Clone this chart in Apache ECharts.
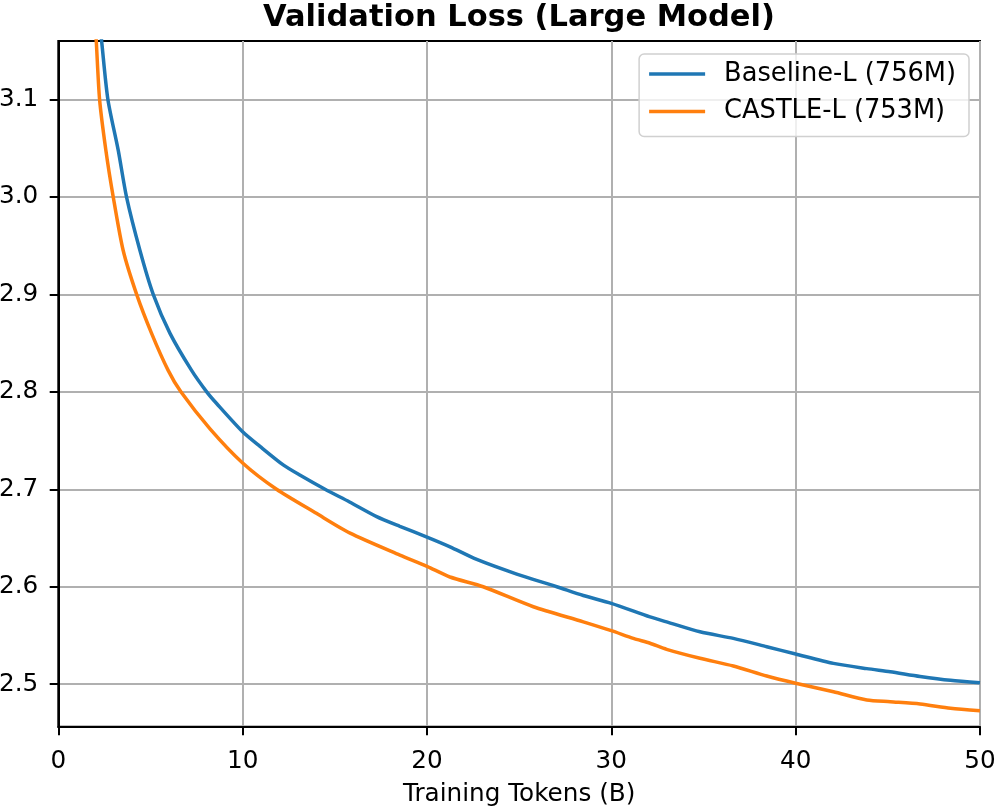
<!DOCTYPE html>
<html>
<head>
<meta charset="utf-8">
<script src="https://cdn.jsdelivr.net/npm/echarts@6/dist/echarts.min.js"></script>
<style>
html,body{margin:0;padding:0;background:#fff;}
#chart{width:997px;height:808px;}
</style>
</head>
<body>
<div id="chart"></div>
<script>
const titleText = 'Validation Loss (Large Model)';
const xAxisName = 'Training Tokens (B)';
const seriesNames = ['Baseline-L (756M)', 'CASTLE-L (753M)'];
const seriesColors = ['#1f77b4', '#ff7f0e'];

const baselineTokens = [2.18, 2.35, 2.69, 3.25, 3.70, 4.43, 5.15, 6.06, 7.23, 8.05, 8.59, 10, 10.94, 12.2, 13.1, 14.47, 15.8, 17.27, 18.53, 20, 21.25, 22.7, 24.87, 27.04, 28.48, 30, 32.1, 33, 34.81, 36.62, 38.43, 40, 42.05, 43.86, 45.13, 46.75, 48.4, 50];
const baselineLoss   = [3.19, 3.16, 3.10, 3.048, 3.00, 2.945, 2.90, 2.860, 2.822, 2.80, 2.788, 2.759, 2.744, 2.725, 2.7146, 2.70, 2.687, 2.672, 2.662, 2.651, 2.641, 2.628, 2.613, 2.60, 2.591, 2.583, 2.569, 2.564, 2.5538, 2.547, 2.5385, 2.531, 2.5214, 2.516, 2.5128, 2.508, 2.504, 2.5015];

const castleTokens = [1.97, 2.06, 2.24, 2.58, 2.98, 3.52, 4.25, 5.06, 5.96, 6.65, 8.23, 10, 11.84, 14.0, 15.83, 18.53, 20, 21.25, 23.05, 25.77, 28.48, 30, 31.2, 32.1, 33, 34.81, 36.62, 38.43, 40, 42.05, 43.86, 45.13, 46.75, 48.4, 50];
const castleLoss   = [3.19, 3.16, 3.10, 3.048, 3.00, 2.945, 2.90, 2.860, 2.822, 2.80, 2.762, 2.727, 2.70, 2.6753, 2.655, 2.6325, 2.621, 2.61, 2.60, 2.5795, 2.564, 2.5549, 2.547, 2.542, 2.5358, 2.5266, 2.5187, 2.5084, 2.501, 2.4923, 2.4838, 2.482, 2.4797, 2.4753, 2.4728];

const xTicks = [0, 10, 20, 30, 40, 50];
const yTicks = [2.5, 2.6, 2.7, 2.8, 2.9, 3.0, 3.1];

const FONT = 'DejaVu Sans';
const pairs = (xs, ys) => xs.map((x, i) => [x, ys[i]]);

const chart = echarts.init(document.getElementById('chart'), null, {renderer: 'canvas'});
chart.setOption({
  animation: false,
  backgroundColor: '#fff',
  title: {
    text: titleText,
    left: 519,
    top: 3,
    textAlign: 'center',
    padding: 0,
    textStyle: {fontFamily: FONT, fontSize: 30.5, fontWeight: 'bold', color: '#000'}
  },
  legend: {
    orient: 'vertical',
    right: 28,
    top: 54,
    padding: [6, 13, 11, 10],
    itemWidth: 56,
    itemHeight: 3.5,
    itemGap: 9.4,
    icon: 'rect',
    backgroundColor: 'rgba(255,255,255,0.8)',
    borderColor: '#d0d0d0',
    borderWidth: 1.5,
    borderRadius: 5,
    textStyle: {fontFamily: FONT, fontSize: 25.7, color: '#000', lineHeight: 28, padding: [0, 0, 0, 14]},
    data: seriesNames
  },
  grid: {
    left: 58.3, right: 17, top: 41, bottom: 81.3,
    outerBoundsMode: 'none',
    containLabel: false,
    show: true, borderColor: '#000', borderWidth: 2, backgroundColor: 'transparent'
  },
  xAxis: {
    type: 'value',
    min: 0, max: 50, interval: 10,
    name: xAxisName,
    nameLocation: 'middle',
    nameGap: 55,
    nameTextStyle: {fontFamily: FONT, fontSize: 24.7, color: '#000'},
    axisLine: {show: true, lineStyle: {color: '#000', width: 2}},
    axisTick: {show: true, inside: false, length: 8.6, lineStyle: {color: '#000', width: 2}, customValues: xTicks},
    axisLabel: {fontFamily: FONT, fontSize: 24.7, color: '#000', margin: 22, customValues: xTicks, formatter: v => String(v)},
    splitLine: {show: true, lineStyle: {color: '#b0b0b0', width: 2}}
  },
  yAxis: {
    type: 'value',
    min: 2.4564, max: 3.16,
    splitNumber: 6,
    axisLine: {show: true, lineStyle: {color: '#000', width: 2}},
    axisTick: {show: true, inside: false, length: 8.6, lineStyle: {color: '#000', width: 2}, customValues: yTicks},
    axisLabel: {fontFamily: FONT, fontSize: 24.7, color: '#000', margin: 20, customValues: yTicks, formatter: v => v.toFixed(1)},
    splitLine: {show: true, lineStyle: {color: '#b0b0b0', width: 2}}
  },
  series: [
    {
      name: seriesNames[0], type: 'line', data: pairs(baselineTokens, baselineLoss),
      showSymbol: false, symbol: 'none', smooth: 0.25, clip: true,
      lineStyle: {color: seriesColors[0], width: 3.5}, itemStyle: {color: seriesColors[0]}, z: 3
    },
    {
      name: seriesNames[1], type: 'line', data: pairs(castleTokens, castleLoss),
      showSymbol: false, symbol: 'none', smooth: 0.25, clip: true,
      lineStyle: {color: seriesColors[1], width: 3.5}, itemStyle: {color: seriesColors[1]}, z: 4
    }
  ]
});
</script>
</body>
</html>
